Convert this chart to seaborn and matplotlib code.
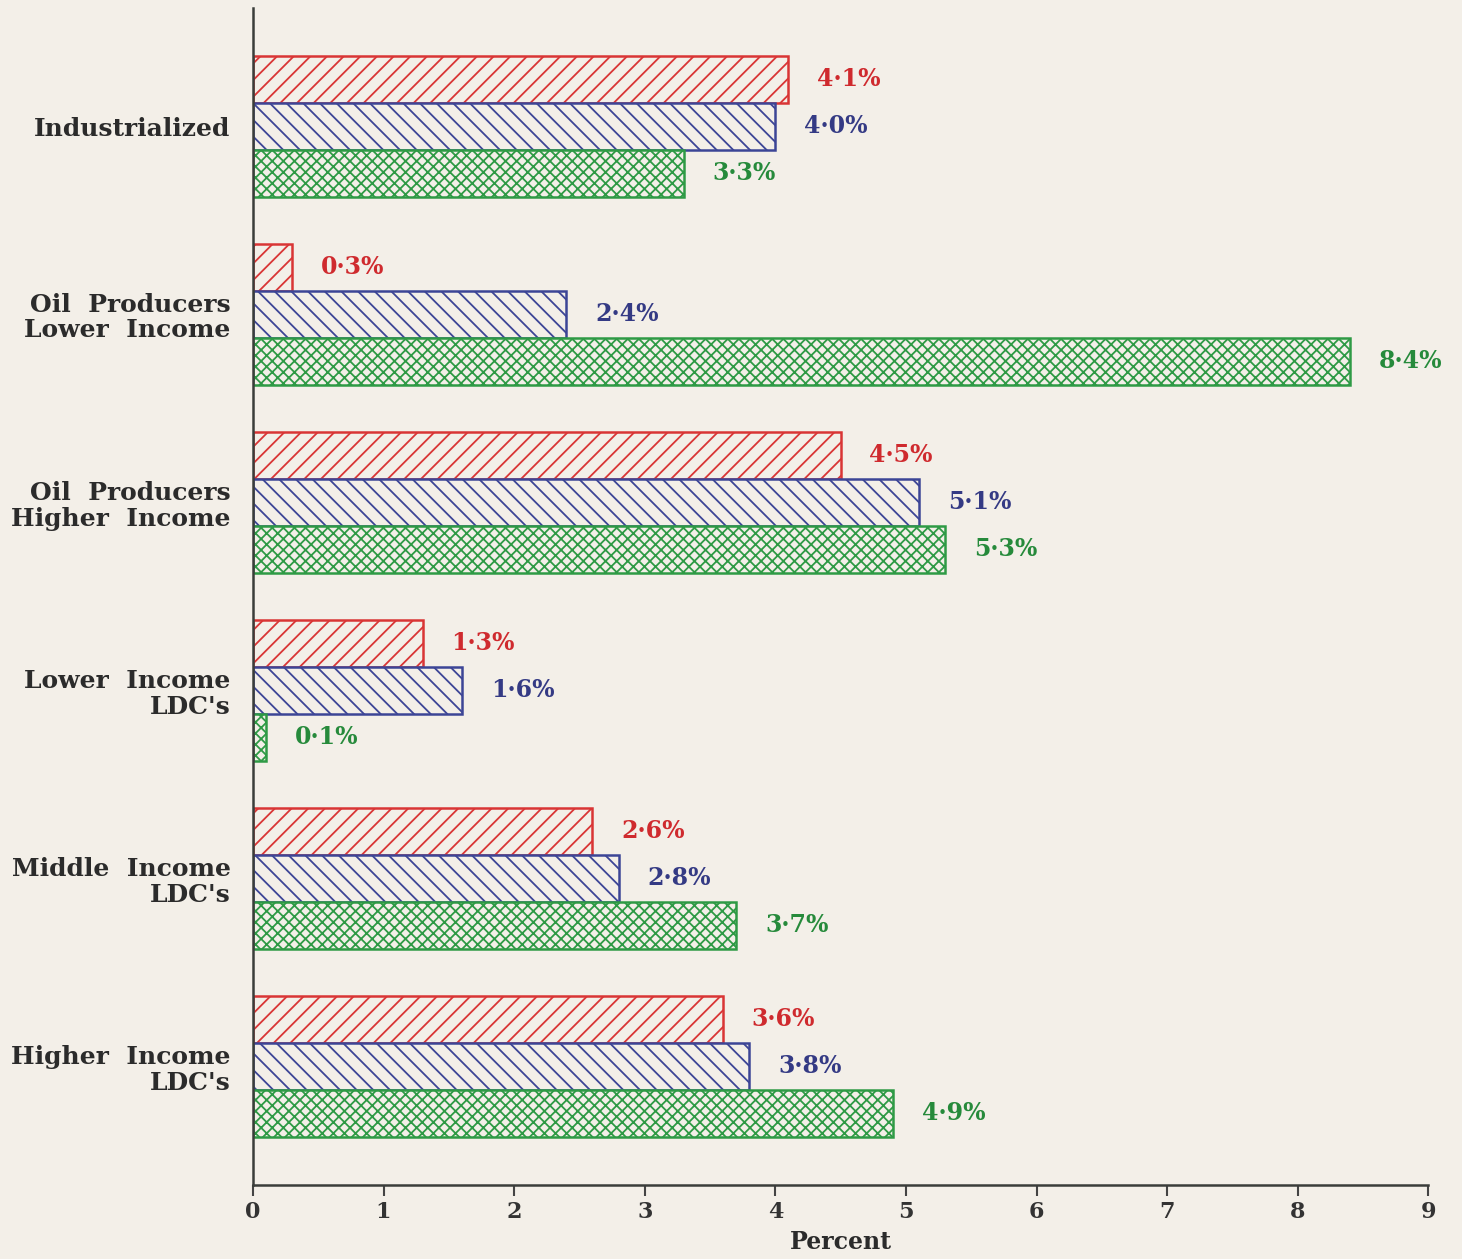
import pandas as pd
import matplotlib.pyplot as plt
import seaborn as sns

# datos
categorias = ["Industrialized", "Oil  Producers\nLower  Income", "Oil  Producers\nHigher  Income",
              "Lower  Income\nLDC's", "Middle  Income\nLDC's", "Higher  Income\nLDC's"]
serie_roja = [4.1, 0.3, 4.5, 1.3, 2.6, 3.6]
serie_azul = [4.0, 2.4, 5.1, 1.6, 2.8, 3.8]
serie_verde = [3.3, 8.4, 5.3, 0.1, 3.7, 4.9]
series = ["A", "B", "C"]
xticks = list(range(0, 10))

BG = "#f3efe8"
colores = ["#d93535", "#3c4596", "#2e9a45"]
texto_col = ["#cf2a2e", "#343a84", "#268a3b"]
hatches = ["//", "\\\\", "xxx"]

df = pd.DataFrame({
    "categoria": categorias * 3,
    "valor": serie_roja + serie_azul + serie_verde,
    "serie": [s for s in series for _ in categorias],
})

sns.set_theme(style="white")
plt.rcParams["font.family"] = ["DejaVu Serif", "Liberation Serif"]
plt.rcParams["hatch.linewidth"] = 1.3

fig = plt.figure(figsize=(14.62, 12.59), dpi=100, facecolor=BG)
ax = fig.add_axes([0.173, 0.059, 0.804, 0.935])
ax.set_facecolor(BG)

sns.barplot(data=df, y="categoria", x="valor", hue="serie", orient="h",
            palette=colores, width=0.75, ax=ax, legend=False)

for cont, col, h, tc in zip(ax.containers, colores, hatches, texto_col):
    for bar in cont:
        bar.set_facecolor(BG)
        bar.set_edgecolor(col)
        bar.set_hatch(h)
        bar.set_linewidth(1.8)
        v = bar.get_width()
        ax.text(v + 0.22, bar.get_y() + bar.get_height() / 2,
                f"{v:.1f}%".replace(".", "\u00b7"), color=tc,
                fontsize=17, fontweight="bold", va="center", ha="left")

ax.set_xlim(0, 9)
ax.set_ylim(5.63, -0.63)
ax.set_xticks(xticks)
ax.set_xticklabels([str(t) for t in xticks], fontsize=16, fontweight="bold", color="#333333")
ax.tick_params(axis="x", direction="out", length=8, width=1.5, color="#444444", pad=4, bottom=True)
ax.tick_params(axis="y", length=0, pad=16)
for lbl in ax.get_yticklabels():
    lbl.set_fontsize(18)
    lbl.set_fontweight("bold")
    lbl.set_color("#2b2b2b")
    lbl.set_linespacing(1.1)
    lbl.set_ha("right")
    lbl.set_multialignment("right")

ax.set_ylabel("")
ax.set_xlabel("Percent", fontsize=17, fontweight="bold", color="#2b2b2b", labelpad=5)

sns.despine(ax=ax, top=True, right=True)
for s in ["left", "bottom"]:
    ax.spines[s].set_color("#3a3d3a")
    ax.spines[s].set_linewidth(1.8)

fig.savefig("out.png", dpi=100, facecolor=BG)
